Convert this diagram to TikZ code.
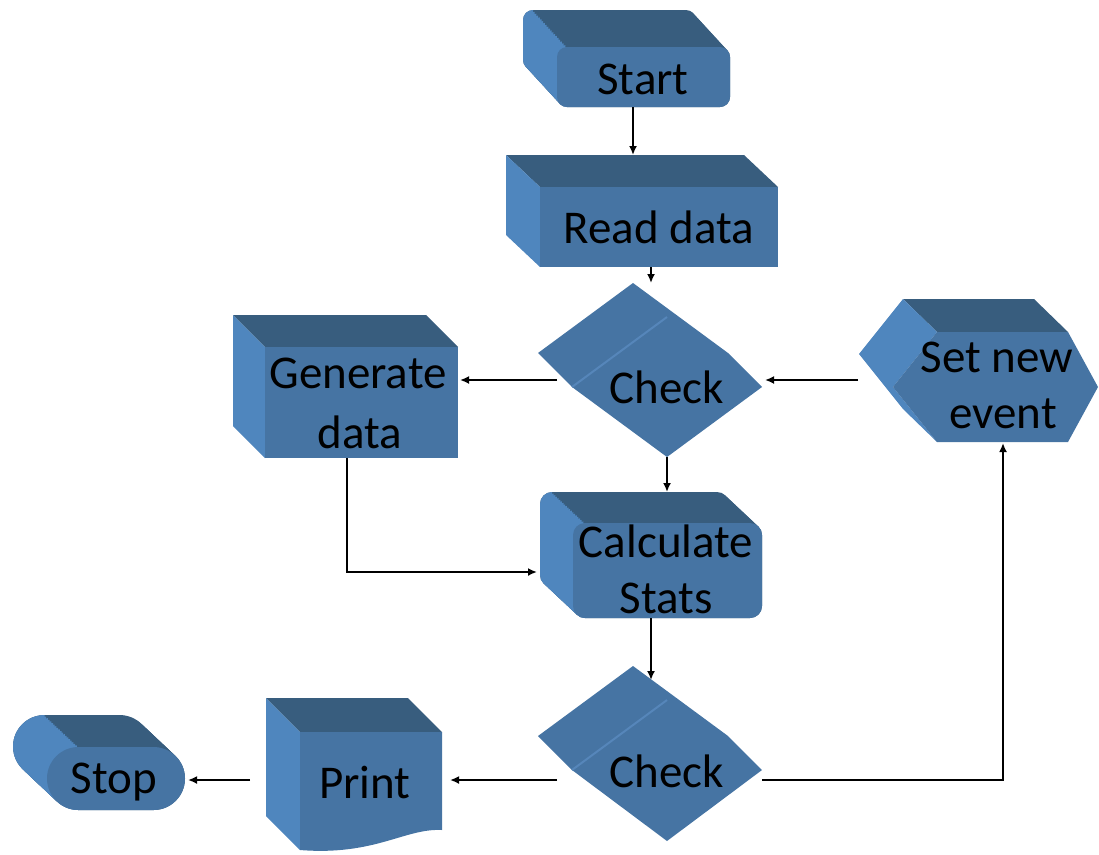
\documentclass[tikz,border=0pt]{standalone}
\usepackage{fontspec}
\setmainfont{Carlito}
\usetikzlibrary{arrows.meta}
\definecolor{topc}{RGB}{56,93,126}
\definecolor{frontc}{RGB}{70,116,163}
\definecolor{sidec}{RGB}{79,134,190}
\definecolor{edgec}{RGB}{86,134,186}
\begin{document}
\begin{tikzpicture}[x=1pt,y=-1pt,
  lbl/.style={anchor=base, inner sep=0pt, font=\fontsize{47}{56}\selectfont},
  conn/.style={line width=2pt, -{Latex[length=9pt,width=8pt]}}]
\useasboundingbox (0,0) rectangle (1099,854);

% ---------- Start (rounded block) ----------
\foreach \i in {0,...,20}
  \fill[topc, rounded corners=10pt, shift={({-34*\i/20},{-37*\i/20})}] (557,47) rectangle (730,107);
\foreach \i in {0,...,20}
  \fill[sidec, shift={({-34*\i/20},{-37*\i/20})}] (567,47) {[rounded corners=10pt] -- (557,47) -- (557,107)} -- (567,107) -- cycle;
\fill[frontc, rounded corners=10pt] (557,47) rectangle (730,107);
\node[lbl] (start) at (643,94) {Start};
\coordinate (start-out) at (633,107);

% ---------- Read data (box) ----------
\fill[topc] (506,155) -- (744,155) -- (778,187) -- (540,187) -- cycle;
\fill[sidec] (506,155) -- (540,187) -- (540,267) -- (506,235) -- cycle;
\fill[frontc] (540,187) rectangle (778,267);
\node[lbl] (read) at (659,243) {Read data};
\coordinate (read-in) at (633,155);
\coordinate (read-out) at (651,267);

% ---------- Check (upper decision) ----------
\fill[frontc] (633,283) -- (728,353) -- (762,387) -- (667,457) -- (572,387) -- (538,353) -- cycle;
\draw[edgec, line width=2pt] (572,387) -- (667,317);
\node[lbl] (checkA) at (667,403) {Check};
\coordinate (checkA-in) at (651,283);
\coordinate (checkA-left) at (557,380);
\coordinate (checkA-right) at (765,380);
\coordinate (checkA-out) at (667,457);

% ---------- Generate data (box) ----------
\fill[topc] (233,315) -- (426,315) -- (458,347) -- (265,347) -- cycle;
\fill[sidec] (233,315) -- (265,347) -- (265,458) -- (233,426) -- cycle;
\fill[frontc] (265,347) rectangle (458,458);
\node[lbl] (genA) at (358,388) {Generate};
\node[lbl] (genB) at (360,448) {data};
\coordinate (gen-in) at (460,380);
\coordinate (gen-out) at (347,458);

% ---------- Set new event (hexagon) ----------
\fill[topc] (903,299) -- (1034,299) -- (1068,332) -- (937,332) -- cycle;
\fill[sidec] (903,299) -- (859,354) -- (903,409) -- (937,442) -- (893,387) -- (937,332) -- cycle;
\fill[frontc] (893,387) -- (937,332) -- (1068,332) -- (1098,387) -- (1068,442) -- (937,442) -- cycle;
\node[lbl] (setA) at (997,372) {Set new};
\node[lbl] (setB) at (1003,428) {event};
\coordinate (set-out) at (858,380);
\coordinate (set-in) at (1003,443);

% ---------- Calculate Stats (rounded block) ----------
\foreach \i in {0,...,20}
  \fill[topc, rounded corners=12pt, shift={({-33*\i/20},{-31*\i/20})}] (573,523) rectangle (762,618);
\foreach \i in {0,...,20}
  \fill[sidec, shift={({-33*\i/20},{-31*\i/20})}] (585,523) {[rounded corners=12pt] -- (573,523) -- (573,618)} -- (585,618) -- cycle;
\fill[frontc, rounded corners=12pt] (573,523) rectangle (762,618);
\node[lbl] (calcA) at (666,557) {Calculate};
\node[lbl] (calcB) at (666,613) {Stats};
\coordinate (calc-top) at (667,492);
\coordinate (calc-left) at (537,572);
\coordinate (calc-out) at (651,618);

% ---------- Check (lower decision) ----------
\fill[frontc] (633,666) -- (728,736) -- (762,770) -- (667,841) -- (572,770) -- (538,736) -- cycle;
\draw[edgec, line width=2pt] (572,770) -- (667,700);
\node[lbl] (checkB) at (667,787) {Check};
\coordinate (checkB-in) at (651,680);
\coordinate (checkB-left) at (557,780);
\coordinate (checkB-right) at (762,780);

% ---------- Print (document) ----------
\fill[topc] (266,698) -- (408,698) -- (442,732) -- (300,732) -- cycle;
\fill[sidec] (266,698) -- (300,732) -- (300,850) -- (266,816) -- cycle;
\fill[frontc] (300,732) -- (442,732) -- (442,830)
  .. controls (405,828) and (375,856) .. (300,850) -- cycle;
\node[lbl] (print) at (365,798) {Print};
\coordinate (print-in) at (450,780);
\coordinate (print-out) at (250,780);

% ---------- Stop (terminator) ----------
\foreach \i in {0,...,20}
  \fill[topc, rounded corners=31.5pt, shift={({-34*\i/20},{-32*\i/20})}] (47,747) rectangle (185,810);
\foreach \i in {0,...,20}
  \fill[sidec, shift={({-34*\i/20},{-32*\i/20})}] (78.5,747) {[rounded corners=31.5pt] -- (47,747) -- (47,810)} -- (78.5,810) -- cycle;
\fill[frontc, rounded corners=31.5pt] (47,747) rectangle (185,810);
\node[lbl] (stop) at (114,793) {Stop};
\coordinate (stop-in) at (188,780);

% ---------- Connectors ----------
\draw[conn] (start-out) -- (read-in);
\draw[conn] (read-out) -- (checkA-in);
\draw[conn] (checkA-left) -- (gen-in);
\draw[conn] (set-out) -- (checkA-right);
\draw[conn] (checkA-out) -- (calc-top);
\draw[conn] (gen-out) |- (calc-left);
\draw[conn] (calc-out) -- (checkB-in);
\draw[conn] (checkB-left) -- (print-in);
\draw[conn] (print-out) -- (stop-in);
\draw[conn] (checkB-right) -| (set-in);
\end{tikzpicture}
\end{document}
